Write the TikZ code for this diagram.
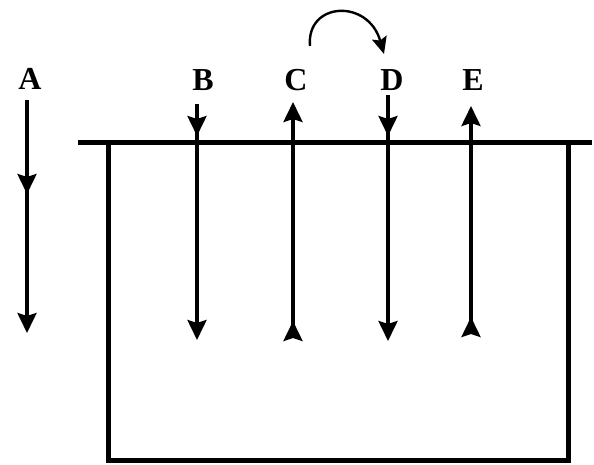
\documentclass[tikz,border=0pt]{standalone}
\usepackage{fontspec}
\setmainfont{Liberation Serif}
\usetikzlibrary{arrows.meta}
\begin{document}
\begin{tikzpicture}[x=1pt,y=-1pt,
  lbl/.style={font=\fontsize{32}{34}\selectfont\bfseries, inner sep=0pt},
  wall/.style={line width=5pt},
  ray/.style={line width=3.6pt},
  hd/.style={-{Stealth[length=20pt,width=19pt,inset=3pt]}},
  bothhd/.style={{Stealth[length=20pt,width=19pt,inset=3pt,reversed]}-{Stealth[length=20pt,width=19pt,inset=3pt]}}]
\useasboundingbox (0,0) rectangle (594,464);
% box
\coordinate (TL) at (78,142);
\coordinate (TR) at (592,142);
\coordinate (BL0) at (108,142);
\coordinate (BL) at (108,460);
\coordinate (BR) at (568,460);
\coordinate (BR0) at (568,142);
\draw[wall] (TL) -- (TR);
\draw[wall, line join=miter] (BL0) -- (BL) -- (BR) -- (BR0);
% labels
\node[lbl] (A) at (30,79) {A};
\node[lbl] (B) at (203,80) {B};
\node[lbl] (C) at (296,80) {C};
\node[lbl] (D) at (392,80) {D};
\node[lbl] (E) at (473,80) {E};
% A
\coordinate (A1) at (27,100);
\coordinate (A2) at (27,194);
\coordinate (A3) at (27,333);
\draw[ray,hd] (A1) -- (A3);
\draw[ray,hd] (A1) -- (A2);
% B
\coordinate (B1) at (197,104);
\coordinate (B2) at (197,136);
\coordinate (B3) at (197,340);
\draw[ray,hd] (B1) -- (B3);
\draw[ray,hd] (B1) -- (B2);
% C
\coordinate (C1) at (293,102);
\coordinate (C3) at (293,341);
\draw[ray,bothhd] (C3) -- (C1);
% D
\coordinate (D1) at (388,95);
\coordinate (D2) at (388,136);
\coordinate (D3) at (388,341);
\draw[ray,hd] (D1) -- (D3);
\draw[ray,hd] (D1) -- (D2);
% E
\coordinate (E1) at (471,106);
\coordinate (E3) at (471,337);
\draw[ray,bothhd] (E3) -- (E1);
% curved arrow
\coordinate (K1) at (310,46);
\coordinate (K2) at (384,54);
\draw[line width=2.4pt,-{Stealth[length=17pt,width=15pt,inset=3pt]}] (K1) .. controls (306,2) and (368,-2) .. (K2);
\end{tikzpicture}
\end{document}
